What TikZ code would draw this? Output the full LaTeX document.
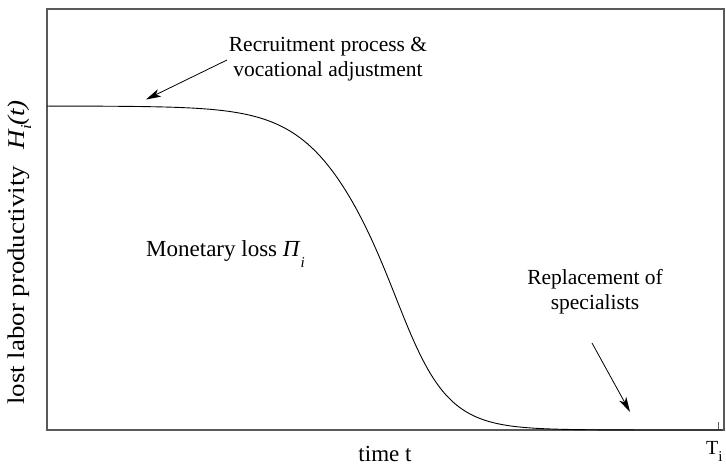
\documentclass[tikz,border=0pt]{standalone}
\usepackage{fontspec}
\setmainfont{Liberation Serif}
\usetikzlibrary{arrows.meta}
\newcommand{\lowsub}[2]{\raisebox{#1}{\fontsize{15}{15}\selectfont #2}}
\begin{document}
\begin{tikzpicture}[x=1pt,y=-1pt,
  declare function={sc(\t)=33.5-4.5*tanh((\t-384)/40); ay(\t)=106+324/(1+exp(-(\t-384)/sc(\t)));},
  lbl/.style={font=\fontsize{21.5}{25}\selectfont, inner sep=0pt, align=center},
  frame/.style={draw=black!65, line width=1.4pt},
  pointer/.style={line width=0.8pt, -{Stealth[length=15pt,width=8pt,inset=4pt]}},
  curve/.style={line width=0.9pt}]
\useasboundingbox (0,0) rectangle (726,466);
% frame
\draw[frame] (47,9) rectangle (724,430);
\draw[frame, line width=1pt] (718,430) -- (718,422);
% curve
\draw[curve] plot[domain=47:722, samples=240, variable=\t] (\t,{ay(\t)});
% labels
\node[lbl] (rec) at (328,59) {Recruitment process \&\\vocational adjustment};
\node[lbl, font=\fontsize{23}{27}\selectfont, anchor=base west] (mon) at (146,256) {Monetary loss \textit{Π}\lowsub{-0.5em}{\itshape i}};
\node[lbl] (rep) at (595,292) {Replacement of\\specialists};
\node[lbl, font=\fontsize{23}{27}\selectfont, anchor=base] (time) at (385,461) {time t};
\node[lbl, font=\fontsize{20}{24}\selectfont, anchor=base west] (Ti) at (706,454) {T\lowsub{-0.35em}{i}};
\node[lbl, font=\fontsize{24}{28}\selectfont, rotate=90, anchor=base west] (ylab) at (24,405) {\scalebox{1.12}[1]{lost labor productivity\hspace{0.6em}\textit{H}\lowsub{-0.3em}{\itshape i}\kern-0.05em\textit{(t)}}};
% pointers
\coordinate (a1s) at (227,60);
\coordinate (a1e) at (146,99.5);
\coordinate (a2s) at (592,343);
\coordinate (a2e) at (630,412);
\draw[pointer] (a1s) -- (a1e);
\draw[pointer] (a2s) -- (a2e);
\end{tikzpicture}
\end{document}
